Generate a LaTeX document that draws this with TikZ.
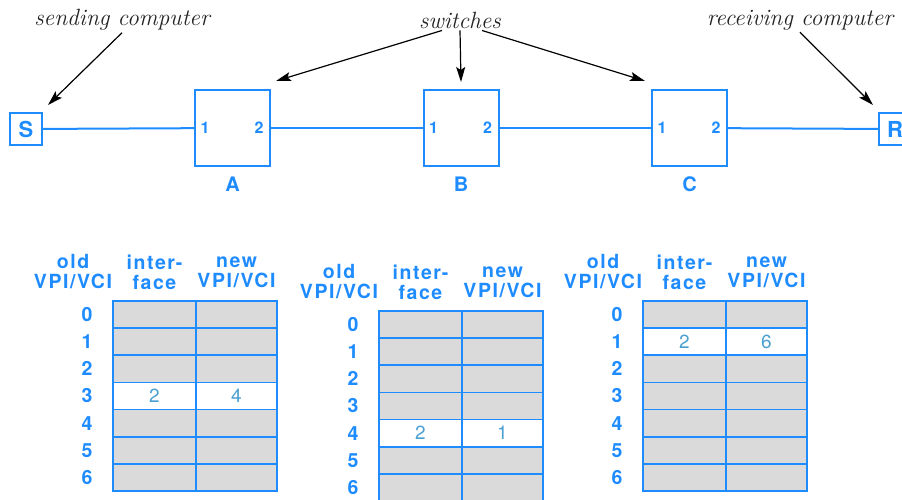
\documentclass[tikz,border=0pt]{standalone}
\usepackage{fontspec}
\newfontfamily\hv{TeX Gyre Heros}
\newfontfamily\hvw[LetterSpace=8]{TeX Gyre Heros}
\usetikzlibrary{arrows.meta}
\definecolor{netblue}{RGB}{30,140,255}
\definecolor{cellblue}{RGB}{75,160,210}
\definecolor{cellgray}{RGB}{218,218,218}
\definecolor{labgray}{RGB}{35,35,35}
\newcommand\vctab[6]{%
 \begin{scope}[shift={(#2,#3)}]
  \fill[cellgray] (0,0) rectangle (164,190);
  \fill[white] (0,{#4*27.14}) rectangle (164,{(#4+1)*27.14});
  \foreach \i in {1,...,6} \draw[tabline] (0,{\i*27.14}) -- (164,{\i*27.14});
  \draw[tabline] (83,0) -- (83,190);
  \draw[tabline] (0,0) rectangle (164,190);
  \node[hdr] (#1-old) at (-40,-29) {old\\VPI/VCI};
  \node[hdr] (#1-if) at (41.5,-29) {inter-\\face};
  \node[hdr] (#1-new) at (123.5,-29) {new\\VPI/VCI};
  \foreach \i in {0,...,6} \node[rownum] (#1-r\i) at (-26,{(\i+0.5)*27.14}) {\i};
  \node[cellval] (#1-v1) at (41.5,{(#4+0.5)*27.14}) {#5};
  \node[cellval] (#1-v2) at (123.5,{(#4+0.5)*27.14}) {#6};
 \end{scope}}
\begin{document}
\begin{tikzpicture}[x=1pt,y=-1pt,
  net/.style={draw=netblue,line width=2pt},
  hostbox/.style={net,minimum width=32pt,minimum height=32pt,inner sep=0pt,text=netblue,font=\hv\bfseries\fontsize{22}{22}\selectfont},
  swbox/.style={net,minimum width=75pt,minimum height=76pt,inner sep=0pt},
  port/.style={text=netblue,inner sep=0pt,font=\hv\bfseries\fontsize{16}{16}\selectfont},
  swname/.style={text=netblue,inner sep=0pt,font=\hv\bfseries\fontsize{20}{20}\selectfont},
  lbl/.style={text=labgray,inner sep=1pt,font=\itshape\fontsize{23.5}{24}\selectfont},
  ptr/.style={draw=black,line width=1.2pt,-{Stealth[length=15pt,width=9pt,inset=3pt]}},
  tabline/.style={draw=netblue,line width=1.8pt},
  hdr/.style={text=netblue,align=center,inner sep=0pt,font=\hvw\bfseries\fontsize{19.5}{20}\selectfont},
  rownum/.style={text=netblue,inner sep=0pt,font=\hv\bfseries\fontsize{19.5}{19.5}\selectfont},
  cellval/.style={text=cellblue,inner sep=0pt,font=\hv\fontsize{19}{19}\selectfont}]
\useasboundingbox (0,0) rectangle (902,500);
\fill[white] (0,0) rectangle (902,500);
% hosts and switches
\node[hostbox] (S) at (26,129) {S};
\node[swbox] (A) at (232.5,128) {};
\node[swbox] (B) at (461,128) {};
\node[swbox] (C) at (689.5,128) {};
\node[hostbox] (R) at (895,129) {R};
\foreach \n in {A,B,C}{
  \node[port] (\n1) at ([xshift=11pt]\n.west) {1};
  \node[port] (\n2) at ([xshift=-12pt]\n.east) {2};
  \node[swname] (\n lab) at ([yshift=-17pt]\n.south) {\n};
}
\draw[net] (S) -- (A);
\draw[net] (A) -- (B);
\draw[net] (B) -- (C);
\draw[net] (C) -- (R);
% labels and pointers
\node[lbl] (send) at (122,20) {sending computer};
\node[lbl] (sw) at (460,20) {switches};
\node[lbl] (recv) at (800,20) {receiving computer};
\coordinate (sTip) at (48,105);
\coordinate (aTip) at (276,81);
\coordinate (bTip) at (461,82);
\coordinate (cTip) at (645,81);
\coordinate (rTip) at (873,105);
\draw[ptr] ([yshift=-1pt]send.south) -- (sTip);
\draw[ptr] ([xshift=-18pt,yshift=-1pt]sw.south) -- (aTip);
\draw[ptr] ([yshift=-1pt]sw.south) -- (bTip);
\draw[ptr] ([xshift=22pt,yshift=-1pt]sw.south) -- (cTip);
\draw[ptr] ([yshift=-1pt]recv.south) -- (rTip);
% tables
\vctab{ta}{113}{301}{3}{2}{4}
\vctab{tb}{379}{311}{4}{2}{1}
\vctab{tc}{643}{301}{1}{2}{6}
\end{tikzpicture}
\end{document}
